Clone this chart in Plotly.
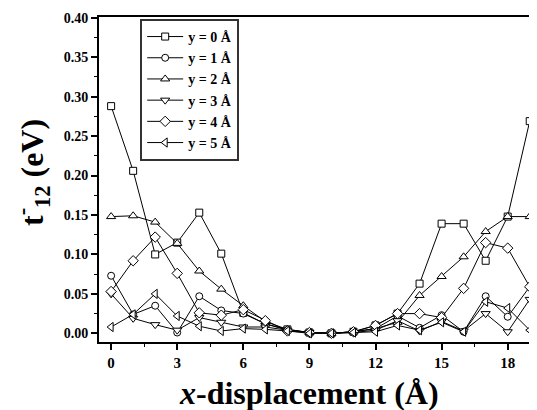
import plotly.graph_objects as go

x_vals = list(range(20))

y0 = [0.288, 0.206, 0.100, 0.115, 0.153, 0.101, 0.026, 0.012, 0.005, 0.001,
      0.000, 0.002, 0.010, 0.025, 0.063, 0.139, 0.139, 0.092, 0.148, 0.269]
y1 = [0.073, 0.024, 0.035, 0.001, 0.047, 0.029, 0.025, 0.012, 0.004, 0.001,
      0.000, 0.002, 0.006, 0.022, 0.007, 0.023, 0.002, 0.047, 0.021, 0.059]
y2 = [0.148, 0.149, 0.141, 0.114, 0.079, 0.056, 0.035, 0.015, 0.005, 0.001,
      0.000, 0.002, 0.006, 0.014, 0.048, 0.072, 0.097, 0.129, 0.148, 0.148]
y3 = [0.050, 0.019, 0.011, 0.004, 0.020, 0.014, 0.008, 0.008, 0.004, 0.001,
      0.000, 0.001, 0.004, 0.016, 0.003, 0.015, 0.003, 0.025, 0.002, 0.043]
y4 = [0.053, 0.092, 0.122, 0.076, 0.026, 0.023, 0.030, 0.016, 0.003, 0.001,
      0.000, 0.002, 0.010, 0.025, 0.025, 0.020, 0.057, 0.115, 0.108, 0.059]
y5 = [0.008, 0.024, 0.050, 0.022, 0.009, 0.003, 0.006, 0.005, 0.003, 0.000,
      0.000, 0.001, 0.002, 0.010, 0.004, 0.014, 0.002, 0.040, 0.032, 0.004]

series = [y0, y1, y2, y3, y4, y5]
names = ["y = 0 Å", "y = 1 Å", "y = 2 Å", "y = 3 Å", "y = 4 Å", "y = 5 Å"]
symbols = ["square", "circle", "triangle-up", "triangle-down", "diamond", "triangle-left"]
sizes = [7, 7, 8, 8, 8, 8]

x_ticks = [0, 3, 6, 9, 12, 15, 18]
y_ticks = [0.00, 0.05, 0.10, 0.15, 0.20, 0.25, 0.30, 0.35, 0.40]

x_title = "<b><i>x</i>-displacement (Å)</b>"
y_title = "<b>t<sup>-</sup><sub>12</sub> (eV)</b>"

FONT = "Liberation Serif, Times New Roman, serif"

fig = go.Figure()
for vals, nm, sym, sz in zip(series, names, symbols, sizes):
    fig.add_trace(go.Scatter(
        x=x_vals, y=vals, name="<b>" + nm + "</b>", mode="lines+markers",
        line=dict(color="black", width=1),
        marker=dict(symbol=sym, size=sz, color="white",
                    line=dict(color="black", width=1)),
    ))

# page body has an 8px default margin, so the figure is sized to fit the window
fig.update_layout(
    width=529, height=402,
    margin=dict(l=91, r=0, t=9, b=68),
    paper_bgcolor="white", plot_bgcolor="white",
    font=dict(family=FONT, color="black"),
    showlegend=True,
    legend=dict(
        x=0.094, y=0.994, xanchor="left", yanchor="top",
        bordercolor="#333333", borderwidth=2, bgcolor="white",
        font=dict(family=FONT, size=14, color="black"),
        tracegroupgap=0, itemwidth=36,
    ),
    xaxis=dict(
        range=[-0.55, 19.33],
        automargin=False,
        tickvals=x_ticks, ticktext=["<b>%d</b>" % v for v in x_ticks],
        tickfont=dict(family=FONT, size=15, color="black"),
        ticks="outside", ticklen=6, tickwidth=1.5, tickcolor="black",
        minor=dict(dtick=1.5, tick0=0, ticks="outside", ticklen=3, tickcolor="black", tickwidth=1),
        showline=True, linecolor="black", linewidth=2, mirror=True,
        showgrid=False, zeroline=False,
    ),
    yaxis=dict(
        range=[-0.011, 0.401],
        automargin=False,
        tickvals=y_ticks, ticktext=["<b>%.2f</b>" % v for v in y_ticks],
        tickfont=dict(family=FONT, size=14, color="black"),
        ticks="outside", ticklen=6, tickwidth=1.5, tickcolor="black",
        minor=dict(dtick=0.025, tick0=0, ticks="outside", ticklen=3, tickcolor="black", tickwidth=1),
        showline=True, linecolor="black", linewidth=2, mirror=False,
        showgrid=False, zeroline=False,
    ),
    annotations=[
        dict(text=x_title, xref="paper", yref="paper", x=0.479, y=-0.157,
             xanchor="center", yanchor="middle", showarrow=False,
             font=dict(family=FONT, size=32, color="black")),
        dict(text=y_title, xref="paper", yref="paper", x=-0.153, y=0.523,
             xanchor="center", yanchor="middle", showarrow=False, textangle=-90,
             font=dict(family=FONT, size=32, color="black")),
    ],
)

fig.write_html("out.html")
